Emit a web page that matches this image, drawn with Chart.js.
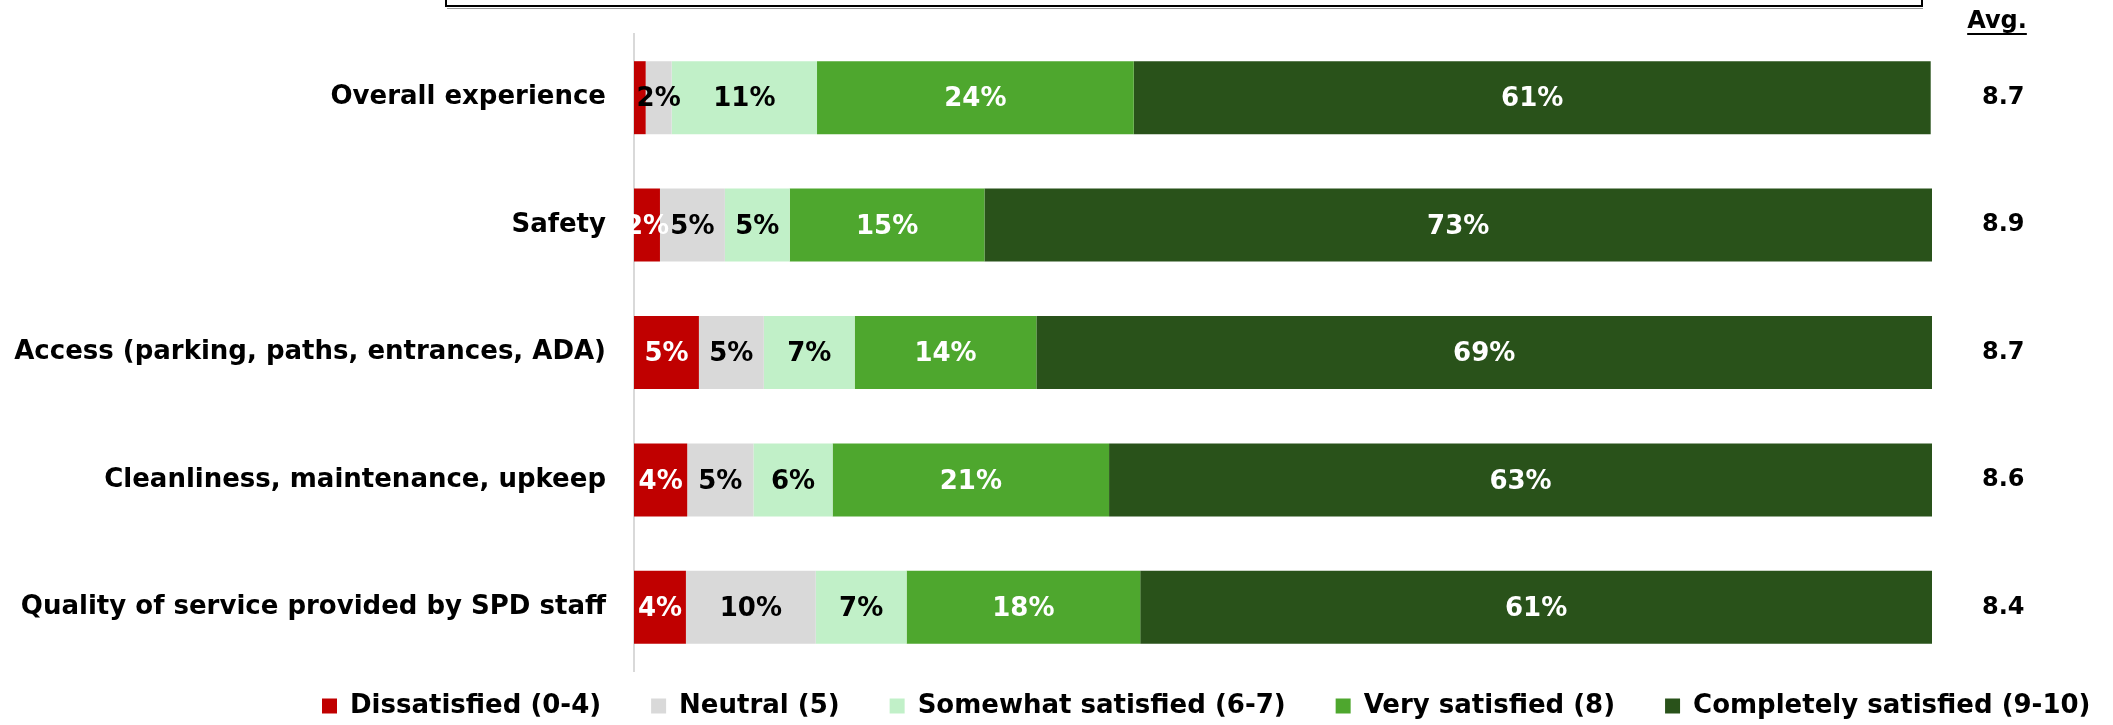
<!DOCTYPE html>
<html>
<head>
<meta charset="utf-8">
<title>Satisfaction ratings</title>
<script src="https://cdn.jsdelivr.net/npm/chart.js@4.4.1/dist/chart.umd.min.js"></script>
<style>
  html, body { margin: 0; padding: 0; background: #fff; }
  #wrap { width: 2113px; height: 725px; }
</style>
</head>
<body>
<div id="wrap"><canvas id="myChart" width="2113" height="725"></canvas></div>
<script>
const categories = [
    'Overall experience',
    'Safety',
    'Access (parking, paths, entrances, ADA)',
    'Cleanliness, maintenance, upkeep',
    'Quality of service provided by SPD staff'
];

const seriesNames = ['Dissatisfied (0-4)', 'Neutral (5)', 'Somewhat satisfied (6-7)', 'Very satisfied (8)', 'Completely satisfied (9-10)'];

const dissatisfied = [0.9, 2, 5, 4.1, 4];
const neutral = [2, 5, 5, 5.1, 10];
const somewhat = [11.2, 5, 7, 6.1, 7];
const verySatisfied = [24.4, 15, 14, 21.3, 18];
const completely = [61.4, 73, 69, 63.4, 61];

const avgScores = ['8.7', '8.9', '8.7', '8.6', '8.4'];

const colors = ['#C00000', '#D9D9D9', '#C1F0C8', '#4EA72E', '#29521A'];
const labelColors = ['#ffffff', '#000000', '#000000', '#ffffff', '#ffffff'];

const FONT = "'DejaVu Sans', Verdana, sans-serif";
Chart.defaults.font.family = FONT;
Chart.defaults.color = '#000';

const LEGEND_PAD = 50;
const LEGEND_FONT = 26;

// percent labels inside each segment
const segmentLabels = {
    id: 'segmentLabels',
    afterDatasetsDraw(chart) {
        const ctx = chart.ctx;
        ctx.save();
        ctx.font = 'bold 26px ' + FONT;
        ctx.textAlign = 'center';
        ctx.textBaseline = 'middle';
        chart.data.datasets.forEach((ds, i) => {
            const meta = chart.getDatasetMeta(i);
            meta.data.forEach((bar, j) => {
                const v = ds.data[j];
                if (v < 1.5) return;
                const p = bar.getCenterPoint();
                ctx.fillStyle = labelColors[i];
                ctx.fillText(Math.round(v) + '%', p.x, p.y + 2);
            });
        });
        ctx.restore();
    }
};

// legend has wide gaps between items but sits close under the bars,
// starting further right than a centred row would
const legendShift = {
    id: 'legendShift',
    afterLayout(chart) {
        const lg = chart.legend;
        const dy = LEGEND_PAD - 22;
        const dx = 272;
        lg.top -= dy;
        lg.bottom -= dy;
        lg.left += dx;
        lg.right += dx;
    }
};

// "Avg." header and the cut off box at the top
const extras = {
    id: 'extras',
    afterDraw(chart) {
        const ctx = chart.ctx;
        ctx.save();
        ctx.strokeStyle = '#000';
        ctx.lineWidth = 2;
        ctx.strokeRect(446, -20, 1476, 26);
        ctx.strokeStyle = '#9a9a9a';
        ctx.lineWidth = 1;
        ctx.beginPath();
        ctx.moveTo(447, 8.5);
        ctx.lineTo(1923, 8.5);
        ctx.stroke();

        ctx.font = 'bold 24px ' + FONT;
        ctx.fillStyle = '#000';
        ctx.textAlign = 'center';
        ctx.textBaseline = 'middle';
        const cx = 1997;
        ctx.fillText('Avg.', cx, 22);
        const w = ctx.measureText('Avg.').width;
        ctx.fillRect(cx - w / 2, 33, w, 2);
        ctx.restore();
    }
};

const seriesValues = [dissatisfied, neutral, somewhat, verySatisfied, completely];

new Chart(document.getElementById('myChart'), {
    type: 'bar',
    data: {
        labels: categories,
        datasets: seriesNames.map((name, i) => ({
            label: name,
            data: seriesValues[i],
            backgroundColor: colors[i],
            borderWidth: 0,
            categoryPercentage: 1,
            barPercentage: 0.573
        }))
    },
    options: {
        indexAxis: 'y',
        responsive: false,
        animation: false,
        devicePixelRatio: 1,
        layout: {
            // legend box is font + padding + 10 tall; chart area bottom lands at y = 671
            padding: { top: 34, bottom: -(LEGEND_FONT + LEGEND_PAD + 10 + 671 - 725), left: 0, right: 0 }
        },
        scales: {
            x: {
                stacked: true,
                min: 0,
                max: 100,
                display: false
            },
            y: {
                stacked: true,
                position: 'left',
                offset: true,
                grid: { display: false, drawTicks: false },
                border: { display: true, color: '#D9D9D9', width: 2 },
                ticks: {
                    color: '#000',
                    padding: 28,
                    font: { size: 26, weight: 'bold' }
                },
                afterFit(scale) {
                    scale.width = 634;
                    scale.paddingTop = 0;
                    scale.paddingBottom = 0;
                }
            },
            avg: {
                type: 'category',
                labels: avgScores,
                position: 'right',
                offset: true,
                grid: { display: false, drawTicks: false },
                border: { display: false },
                ticks: {
                    color: '#000',
                    padding: 50,
                    crossAlign: 'near',
                    font: { size: 24, weight: 'bold' }
                },
                afterFit(scale) {
                    scale.width = 181;
                    scale.paddingTop = 0;
                    scale.paddingBottom = 0;
                }
            }
        },
        plugins: {
            legend: {
                position: 'bottom',
                align: 'start',
                labels: {
                    boxWidth: 15,
                    boxHeight: 15,
                    padding: LEGEND_PAD,
                    color: '#000',
                    font: { size: LEGEND_FONT, weight: 'bold' }
                }
            },
            tooltip: { enabled: false }
        }
    },
    plugins: [segmentLabels, legendShift, extras]
});
</script>
</body>
</html>
